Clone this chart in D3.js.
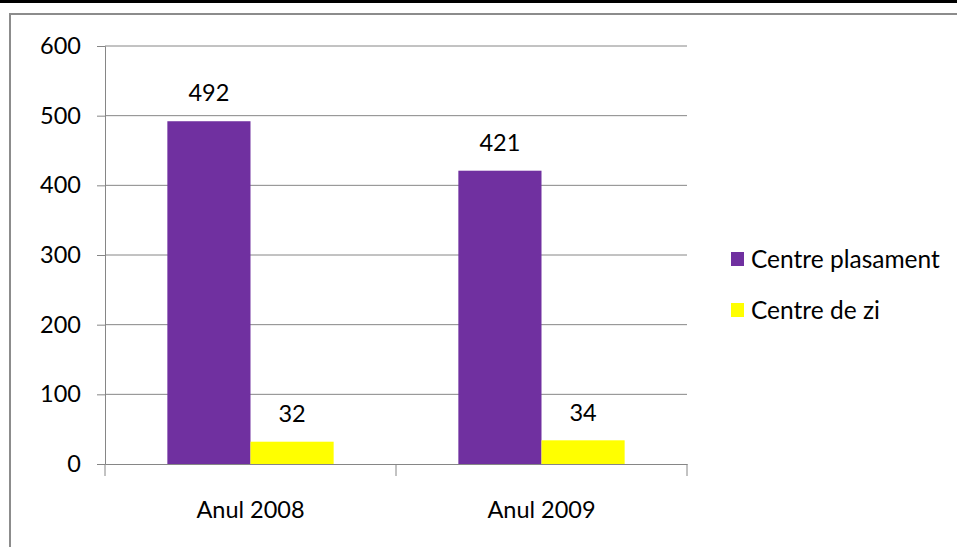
<!DOCTYPE html>
<html>
<head>
<meta charset="utf-8">
<script src="https://cdn.jsdelivr.net/npm/d3@7"></script>
<style>
  body { margin: 0; background: #fff; }
  svg { display: block; font-family: Lato, "Open Sans", sans-serif; }
</style>
</head>
<body>
<div id="chart"></div>
<script>
const categories = ['Anul 2008', 'Anul 2009'];
const seriesNames = ['Centre plasament', 'Centre de zi'];
const plasament = [492, 421];
const deZi = [32, 34];
const yTicks = [0, 100, 200, 300, 400, 500, 600];
const colors = ['#7030a0', '#ffff00'];

const width = 957, height = 547;
const fs = 23.5;
const svg = d3.select('#chart').append('svg')
  .attr('width', width).attr('height', height);

// top black band and grey frame
svg.append('rect').attr('x', 0).attr('y', 0).attr('width', width).attr('height', 3).attr('fill', '#000');
svg.append('path').attr('d', `M10,${height} V14 H${width}`)
  .attr('fill', 'none').attr('stroke', '#8c8c8c').attr('stroke-width', 2);

const x0 = 105, x1 = 687, yTop = 46, yBot = 464;

const y = d3.scaleLinear().domain([0, 600]).range([yBot, yTop]);
const x = d3.scaleBand().domain(categories).range([x0, x1]).paddingInner(0).paddingOuter(0);
const xs = d3.scaleBand().domain(seriesNames).range([0, x.bandwidth()]).paddingInner(0).paddingOuter(0.75);

// gridlines
svg.append('g').selectAll('line').data(yTicks.filter(d => d > 0)).enter().append('line')
  .attr('x1', x0).attr('x2', x1).attr('y1', d => y(d)).attr('y2', d => y(d))
  .attr('stroke', '#868686').attr('stroke-width', 1);

// y axis
const yAxis = svg.append('g').attr('transform', `translate(${x0},0)`)
  .call(d3.axisLeft(y).tickValues(yTicks).tickSize(8).tickPadding(16));
yAxis.select('.domain').attr('stroke', '#868686');
yAxis.selectAll('line').attr('stroke', '#868686');
yAxis.selectAll('text').attr('font-size', fs).attr('fill', '#000').attr('font-family', 'Lato, sans-serif');

const data = categories.map((c, i) => ({ cat: c, vals: [plasament[i], deZi[i]] }));

const groups = svg.append('g').selectAll('g').data(data).enter().append('g')
  .attr('transform', d => `translate(${x(d.cat)},0)`);

groups.selectAll('rect').data(d => d.vals.map((v, j) => ({ v, s: seriesNames[j], j }))).enter().append('rect')
  .attr('x', d => xs(d.s)).attr('width', xs.bandwidth())
  .attr('y', d => y(d.v)).attr('height', d => yBot - y(d.v))
  .attr('fill', d => colors[d.j]);

groups.selectAll('text').data(d => d.vals.map((v, j) => ({ v, s: seriesNames[j] }))).enter().append('text')
  .attr('x', d => xs(d.s) + xs.bandwidth() / 2)
  .attr('y', d => y(d.v) - 28)
  .attr('dy', '0.35em')
  .attr('text-anchor', 'middle')
  .attr('font-size', fs)
  .text(d => d.v);

// x axis
const xAxis = svg.append('g').attr('transform', `translate(0,${yBot})`)
  .call(d3.axisBottom(x).tickSize(0).tickPadding(37));
xAxis.select('.domain').attr('stroke', '#868686');
xAxis.selectAll('text').attr('font-size', fs).attr('fill', '#000').attr('font-family', 'Lato, sans-serif');
// category separators
svg.append('g').selectAll('line').data([x0, ...categories.map(c => x(c) + x.bandwidth())]).enter().append('line')
  .attr('x1', d => d).attr('x2', d => d).attr('y1', yBot).attr('y2', yBot + 12)
  .attr('stroke', '#868686');

// legend
const legend = svg.append('g').attr('transform', 'translate(731,252)');
const li = legend.selectAll('g').data(seriesNames).enter().append('g')
  .attr('transform', (d, i) => `translate(0,${i * 51})`);
li.append('rect').attr('width', 13).attr('height', 14).attr('fill', (d, i) => colors[i]);
li.append('text').attr('x', 20).attr('y', 7).attr('dy', '0.35em')
  .attr('font-size', 24.5).text(d => d);
</script>
</body>
</html>
